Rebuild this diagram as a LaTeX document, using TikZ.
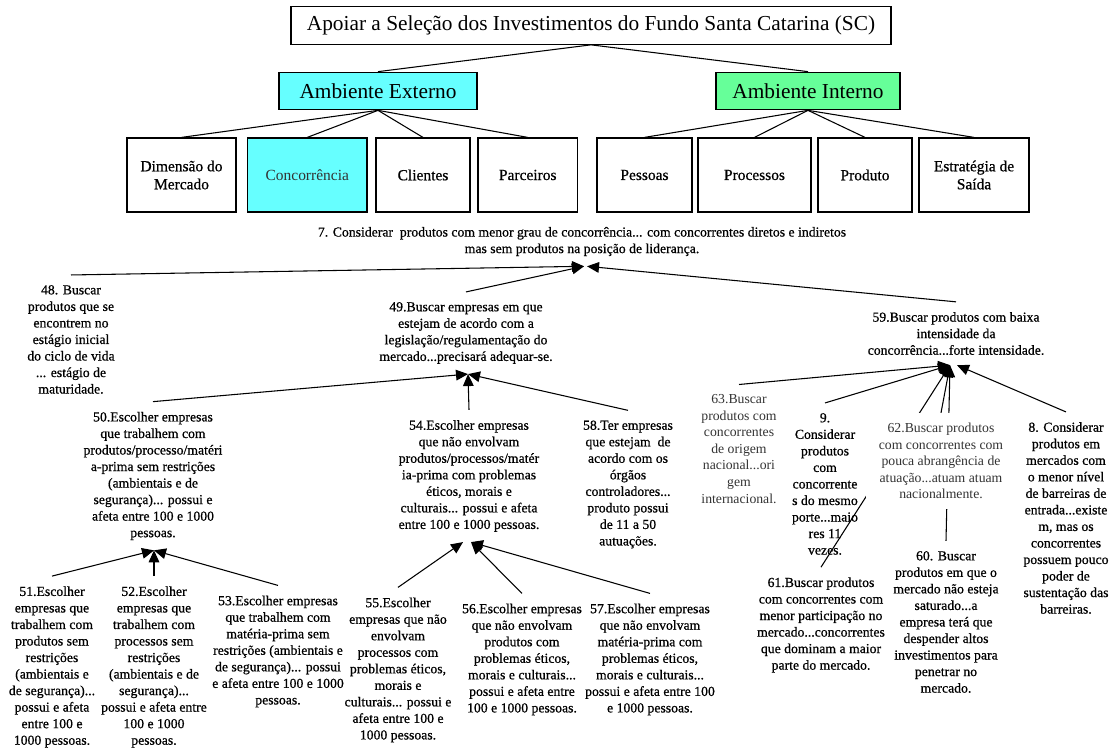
\documentclass[tikz,border=0pt]{standalone}
\usepackage{fontspec}
\setmainfont{Liberation Serif}
\newfontfamily\heavyserif{Liberation Serif}[FakeBold=0.7]
\usetikzlibrary{arrows.meta}
\pgfdeclarelayer{background}
\pgfsetlayers{background,main}

\newcommand\bodyfont{\heavyserif\fontsize{10.3pt}{12.4pt}\selectfont}
\newcommand\lightbodyfont{\rmfamily\fontsize{10.3pt}{12.4pt}\selectfont}
\newcommand\boxfont{\heavyserif\fontsize{11.6pt}{13.5pt}\selectfont}
\newcommand\lightboxfont{\rmfamily\fontsize{11.6pt}{13.5pt}\selectfont}
\newcommand\headfont{\rmfamily\fontsize{16pt}{19pt}\selectfont}

\definecolor{cyanfill}{HTML}{66FFFF}
\definecolor{greenfill}{HTML}{66FF99}
\definecolor{softtext}{HTML}{333333}

\begin{document}
\begin{tikzpicture}[x=0.75pt,y=-0.75pt,
  hbox/.style={draw, line width=0.9pt, inner sep=0pt, minimum height=37.5*0.75pt, font=\headfont},
  cbox/.style={draw, line width=0.9pt, inner sep=0pt, minimum height=74*0.75pt, align=center, font=\boxfont},
  note/.style={align=center, font=\bodyfont, inner xsep=2pt, inner ysep=7.5pt},
  lightnote/.style={note, font=\lightbodyfont, text=softtext},
  link/.style={line width=0.8pt},
  arr/.style={line width=0.8pt, -{Triangle[length=9pt,width=8pt]}}]

\useasboundingbox (0,0) rectangle (1110,749);

% goal and the two environments
\node[hbox, minimum width=600*0.75pt] (goal) at (591,25.5) {Apoiar a Seleção dos Investimentos do Fundo Santa Catarina (SC)};
\node[hbox, fill=cyanfill, minimum width=198*0.75pt] (ext) at (378,91) {Ambiente Externo};
\node[hbox, fill=greenfill, minimum width=184*0.75pt] (int) at (808,91) {Ambiente Interno};

% criteria boxes
\node[cbox, minimum width=109*0.75pt] (dim) at (181.5,175) {Dimensão do\\Mercado};
\node[cbox, fill=cyanfill, font=\lightboxfont, text=softtext, minimum width=119.5*0.75pt] (conc) at (307.25,175) {Concorrência};
\node[cbox, minimum width=94*0.75pt] (cli) at (423,175) {Clientes};
\node[cbox, minimum width=99.5*0.75pt] (par) at (527.75,175) {Parceiros};
\node[cbox, minimum width=95*0.75pt] (pes) at (644.5,175) {Pessoas};
\node[cbox, minimum width=113*0.75pt] (proc) at (754.5,175) {Processos};
\node[cbox, minimum width=94*0.75pt] (prod) at (865,175) {Produto};
\node[cbox, minimum width=110*0.75pt] (est) at (974,175) {Estratégia de\\Saída};

\draw[link] (goal.south) -- (ext.north);
\draw[link] (goal.south) -- (int.north);
\foreach \c in {dim,conc,cli,par} \draw[link] (ext.south) -- (\c.north);
\foreach \c in {pes,proc,prod,est} \draw[link] (int.south) -- (\c.north);

% concepts
\node[note] (c7) at (582,241.5) {7. Considerar~ produtos com menor grau de concorrência... com concorrentes diretos e indiretos\\mas sem produtos na posição de liderança.};
\node[note] (c48) at (71,339.5) {48. Buscar\\produtos que se\\encontrem no\\estágio inicial\\do ciclo de vida\\... estágio de\\maturidade.};
\node[note] (c49) at (466,333) {49.Buscar empresas em que\\estejam de acordo com a\\legislação/regulamentação do\\mercado...precisará adequar-se.};
\node[note] (c59) at (956,333.5) {59.Buscar produtos com baixa\\intensidade da\\concorrência...forte intensidade.};
\node[note] (c50) at (153,476) {50.Escolher empresas\\que trabalhem com\\produtos/processo/matéri\\a-prima sem restrições\\(ambientais e de\\segurança)... possui e\\afeta entre 100 e 1000\\pessoas.};
\node[note] (c54) at (469,476) {54.Escolher empresas\\que não envolvam\\produtos/processos/matér\\ia-prima com problemas\\éticos, morais e\\culturais... possui e afeta\\entre 100 e 1000 pessoas.};
\node[note] (c58) at (628,484.5) {58.Ter empresas\\que estejam~ de\\acordo com os\\órgãos\\controladores...\\produto possui\\de 11 a 50\\autuações.};
\node[note] (c51) at (52,667) {51.Escolher\\empresas que\\trabalhem com\\produtos sem\\restrições\\(ambientais e\\de segurança)...\\possui e afeta\\entre 100 e\\1000 pessoas.};
\node[note] (c52) at (154,667) {52.Escolher\\empresas que\\trabalhem com\\processos sem\\restrições\\(ambientais e de\\segurança)...\\possui e afeta entre\\100 e 1000\\pessoas.};
\node[note] (c53) at (278,651.5) {53.Escolher empresas\\que trabalhem com\\matéria-prima sem\\restrições (ambientais e\\de segurança)... possui\\e afeta entre 100 e 1000\\pessoas.};
\node[note] (c55) at (398,670) {55.Escolher\\empresas que não\\envolvam\\processos com\\problemas éticos,\\morais e\\culturais... possui e\\afeta entre 100 e\\1000 pessoas.};
\node[note] (c56) at (522,659.5) {56.Escolher empresas\\que não envolvam\\produtos com\\problemas éticos,\\morais e culturais...\\possui e afeta entre\\100 e 1000 pessoas.};
\node[note] (c57) at (650,659.5) {57.Escolher empresas\\que não envolvam\\matéria-prima com\\problemas éticos,\\morais e culturais...\\possui e afeta entre 100\\e 1000 pessoas.};
\node[lightnote] (c63) at (739,449) {63.Buscar\\produtos com\\concorrentes\\de origem\\nacional...ori\\gem\\internacional.};
\node[note] (c9) at (825,484) {9.\\Considerar\\produtos\\com\\concorrente\\s do mesmo\\porte...maio\\res 11\\vezes.};
\node[lightnote, fill=white, minimum width=150*0.75pt] (c62) at (941,461) {62.Buscar produtos\\com concorrentes com\\pouca abrangência de\\atuação...atuam atuam\\nacionalmente.};
\node[note] (c8) at (1066,518) {8. Considerar\\produtos em\\mercados com\\o menor nível\\de barreiras de\\entrada...existe\\m, mas os\\concorrentes\\possuem pouco\\poder de\\sustentação das\\barreiras.};
\node[note] (c61) at (821,625) {61.Buscar produtos\\com concorrentes com\\menor participação no\\mercado...concorrentes\\que dominam a maior\\parte do mercado.};
\node[note] (c60) at (946,622) {60. Buscar\\produtos em que o\\mercado não esteja\\saturado...a\\empresa terá que\\despender altos\\investimentos para\\penetrar no\\mercado.};

% means-end arrows, kept behind the concept texts
\begin{pgfonlayer}{background}
\draw[arr] (c48.north) -- ([xshift=1.5pt]c7.south);
\draw[arr] (c49.north) -- ([xshift=1.5pt]c7.south);
\draw[arr] (c59.north) -- ([xshift=3.75pt]c7.south);
\draw[arr] (c50.north) -- ([xshift=1.5pt]c49.south);
\draw[arr] (c54.north) -- ([xshift=1.5pt]c49.south);
\draw[arr] (c58.north) -- ([xshift=1.5pt]c49.south);
\draw[arr] (c51.north) -- ([xshift=0.75pt]c50.south);
\draw[arr] (c52.north) -- ([xshift=0.75pt]c50.south);
\draw[arr] (c53.north) -- ([xshift=0.75pt]c50.south);
\draw[arr] (c55.north) -- ([xshift=-4.5pt]c54.south);
\draw[arr] (c56.north) -- ([xshift=1.5pt]c54.south);
\draw[arr] (c57.north) -- ([xshift=1.5pt]c54.south);
\draw[arr] (c63.north) -- ([xshift=-4.5pt]c59.south);
\draw[arr] (c9.north) -- ([xshift=-4.5pt]c59.south);
\draw[arr] (c61.north) -- ([xshift=-4.5pt]c59.south);
\draw[arr] (c62.north) -- ([xshift=-4.5pt]c59.south);
\draw[arr] (c60.north) -- ([xshift=-4.5pt]c59.south);
\draw[arr] (c8.north) -- ([xshift=0.75pt]c59.south);
\end{pgfonlayer}
\end{tikzpicture}
\end{document}
